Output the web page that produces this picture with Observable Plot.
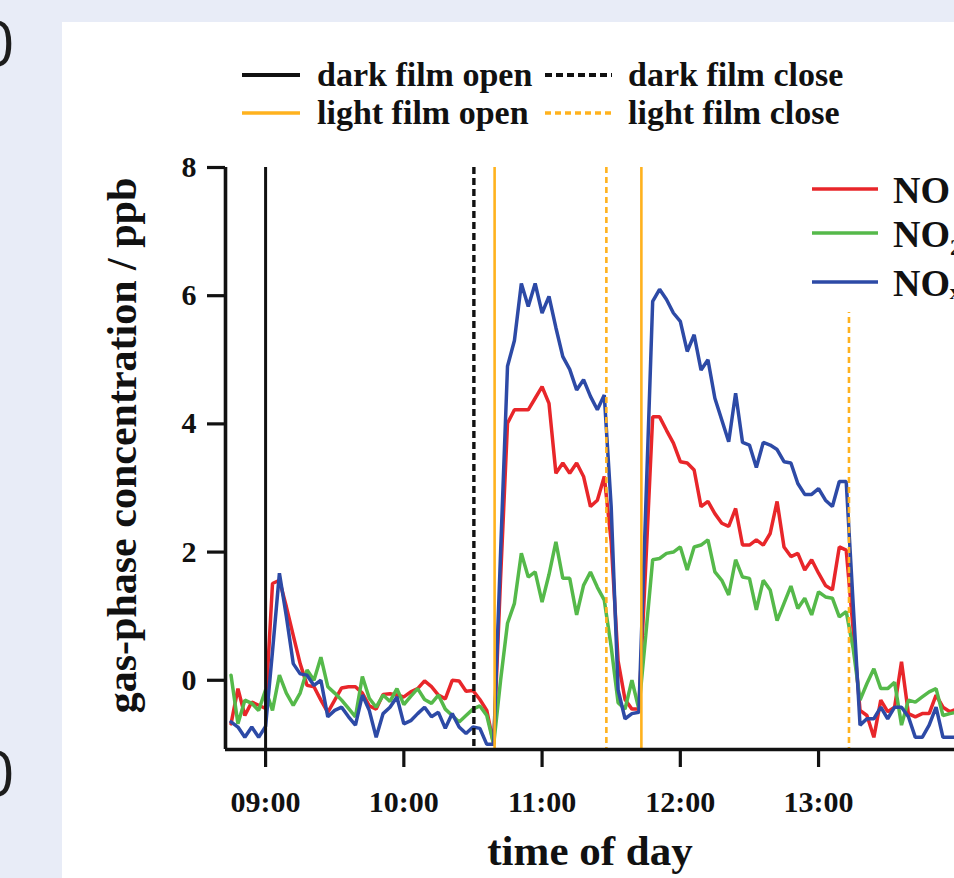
<!DOCTYPE html>
<html>
<head>
<meta charset="utf-8">
<script src="https://cdn.jsdelivr.net/npm/d3@7"></script>
<script src="https://cdn.jsdelivr.net/npm/@observablehq/plot@0.6"></script>
<style>
  html, body { margin: 0; padding: 0; width: 954px; height: 878px; overflow: hidden; background: #e8ecf7; }
  #page { position: relative; width: 954px; height: 878px; overflow: hidden; }
  .frag { position: absolute; left: -21px; font-family: "Open Sans", sans-serif; font-size: 62px; line-height: 1; color: #1c1c1c; }
  #panel { position: absolute; left: 62px; top: 22px; width: 1000px; height: 900px; background: #fff; }
  #chart { position: absolute; left: 0; top: 118px; }
  .serif { font-family: "Liberation Serif", serif; font-weight: bold; color: #111; }
  #film { position: absolute; left: 180px; top: 34px; display: grid;
          grid-template-columns: 58px 17px 228px 67px 16px auto; grid-auto-rows: 38px;
          font-size: 34px; line-height: 38px; align-items: center; }
  #gas { position: absolute; left: 738px; top: 140px; width: 300px; height: 150px; background: #fff; }
  .gasrow { position: absolute; left: 12px; display: flex; align-items: center; font-size: 38px; line-height: 40px; }
</style>
</head>
<body>
<div id="page">
  <div class="frag" style="top:11px">0</div>
  <div class="frag" style="top:741px">0</div>
  <div id="panel">
    <div id="film" class="serif"></div>
    <div id="chart"></div>
    <div id="gas" class="serif"></div>
  </div>
</div>
<script>
// ---- data (minutes after midnight, concentrations in ppb) ----
const times = [525,528,531,534,537,540,543,546,549,552,555,558,561,564,567,570,573,576,579,582,585,588,591,594,597,600,603,606,609,612,615,618,621,624,627,630,633,636,639,642,645,648,651,654,657,660,663,666,669,672,675,678,681,684,687,690,693,696,699,702,705,708,711,714,717,720,723,726,729,732,735,738,741,744,747,750,753,756,759,762,765,768,771,774,777,780,783,786,789,792,795,798,801,804,807,810,813,816,819,822,825,828,831,834,837,840];
const noValues = [-0.68,-0.13,-0.55,-0.34,-0.39,-0.44,
  1.51,1.56,1.15,0.70,0.26,-0.08,-0.10,-0.31,-0.50,-0.31,
  -0.12,-0.10,-0.10,-0.20,-0.40,-0.45,-0.22,-0.21,-0.23,-0.26,
  -0.18,-0.13,-0.01,-0.10,-0.23,-0.29,0.00,-0.01,-0.17,-0.16,
  -0.30,-0.47,-1.00,1.60,4.01,4.22,4.22,4.22,4.40,4.58,
  4.32,3.23,3.39,3.23,3.39,3.18,2.71,2.81,3.18,2.16,
  0.30,-0.30,-0.45,-0.45,1.80,4.11,4.11,3.90,3.70,3.41,
  3.39,3.28,2.71,2.79,2.60,2.45,2.40,2.68,2.11,2.11,
  2.19,2.11,2.29,2.79,2.08,1.93,1.98,1.72,1.88,1.67,
  1.48,1.41,2.08,2.03,0.80,-0.47,-0.55,-0.89,-0.31,-0.49,
  -0.42,0.29,-0.52,-0.57,-0.52,-0.52,-0.23,-0.42,-0.49,-0.45];
const no2Values = [0.08,-0.68,-0.31,-0.36,-0.47,-0.15,
  -0.47,0.08,-0.20,-0.39,-0.20,0.16,0.00,0.36,-0.10,-0.20,
  -0.31,-0.44,-0.57,0.06,-0.28,-0.42,-0.23,-0.33,-0.13,-0.38,
  -0.25,-0.13,-0.30,-0.36,-0.23,-0.45,-0.55,-0.65,-0.55,-0.45,
  -0.40,-0.55,-1.00,0.00,0.89,1.20,1.98,1.61,1.69,1.22,
  1.65,2.16,1.59,1.59,1.02,1.48,1.69,1.45,1.25,0.52,
  -0.35,-0.45,0.00,-0.45,0.70,1.88,1.90,1.98,2.00,2.08,
  1.72,2.08,2.11,2.19,1.69,1.56,1.33,1.88,1.61,1.59,
  1.10,1.56,1.41,0.93,1.20,1.47,1.12,1.28,1.02,1.38,
  1.30,1.28,0.99,1.07,0.50,-0.31,-0.05,0.18,-0.13,-0.13,
  -0.03,-0.70,-0.31,-0.34,-0.26,-0.18,-0.13,-0.55,-0.52,-0.50];
const noxValues = [-0.65,-0.73,-0.89,-0.73,-0.89,-0.72,
  0.45,1.67,1.00,0.26,0.10,0.08,-0.08,0.00,-0.57,-0.47,
  -0.42,-0.57,-0.70,-0.23,-0.47,-0.89,-0.52,-0.42,-0.26,-0.68,
  -0.63,-0.52,-0.42,-0.57,-0.50,-0.75,-0.52,-0.73,-0.83,-0.73,
  -0.75,-1.00,-1.00,2.00,4.90,5.30,6.19,5.83,6.19,5.73,
  5.99,5.50,5.05,4.85,4.53,4.69,4.43,4.22,4.45,2.70,
  -0.15,-0.60,-0.52,-0.50,2.70,5.91,6.10,5.94,5.73,5.60,
  5.13,5.39,4.84,5.00,4.40,4.06,3.72,4.48,3.71,3.67,
  3.32,3.71,3.67,3.60,3.41,3.39,3.07,2.90,2.90,2.99,
  2.81,2.71,3.10,3.10,1.20,-0.70,-0.60,-0.60,-0.42,-0.60,
  -0.42,-0.42,-0.57,-0.89,-0.89,-0.70,-0.42,-0.89,-0.89,-0.89];

const seriesNames = ["NO", "NO₂", "NOₓ"];
const seriesColors = ["#e8262a", "#55b94a", "#2d4aa6"];

const eventTimes = [540, 630.4, 639.4, 687.9, 703.1, 793.2];
const eventKinds = ["dark film open", "dark film close", "light film open", "light film close", "light film open", "light film close"];
const filmKinds = ["dark film open", "dark film close", "light film open", "light film close"];
const filmColors = ["#111111", "#111111", "#ffb21e", "#ffb21e"];
const filmDash = [null, "7,4", null, "6,4"];
const filmWidth = [3, 3.4, 2.6, 2.6];

const xTicks = [540, 600, 660, 720, 780];
const xTickLabels = ["09:00", "10:00", "11:00", "12:00", "13:00"];
const yTicks = [0, 2, 4, 6, 8];
const xDomain = [522.6, 839.0];
const yDomain = [-1.08, 8];
const xLabel = "time of day";
const yLabel = "gas-phase concentration / ppb";

// ---- build ----
const seriesValues = [noValues, no2Values, noxValues];
const lines = seriesValues.map((vals, si) => times.map((t, i) => ({t, v: vals[i], s: seriesNames[si]})));
const events = eventTimes.map((t, i) => ({t, kind: eventKinds[i]}));

const eventMarks = filmKinds.map((k, i) =>
  Plot.ruleX(events.filter(e => e.kind === k), {
    x: "t", stroke: filmColors[i], strokeWidth: filmWidth[i],
    strokeDasharray: filmDash[i] || undefined
  }));

const chart = Plot.plot({
  width: 892, height: 738,
  marginLeft: 163, marginRight: 0, marginTop: 27, marginBottom: 129,
  x: {domain: xDomain},
  y: {domain: yDomain},
  style: {background: "transparent", fontFamily: "'Liberation Serif', serif", fontWeight: "bold", color: "#111", overflow: "visible", maxWidth: "none"},
  marks: [
    Plot.axisY({ticks: yTicks, tickSize: 18, tickPadding: 11, strokeWidth: 3.2, fontSize: 30, fontWeight: "bold", label: null}),
    Plot.axisX({ticks: xTicks, tickFormat: d => xTickLabels[xTicks.indexOf(d)], tickSize: 18, tickPadding: 23, strokeWidth: 3.2, fontSize: 30, fontWeight: "bold", label: null}),
    ...lines.map((L, si) => Plot.line(L, {x: "t", y: "v", stroke: seriesColors[si], strokeWidth: 3.5, strokeLinejoin: "miter"})),
    ...eventMarks,
    Plot.ruleX([xDomain[0]], {strokeWidth: 3.6, stroke: "#111"}),
    Plot.ruleY([yDomain[0]], {strokeWidth: 3.6, stroke: "#111"}),
    Plot.text([yLabel], {frameAnchor: "left", textAnchor: "middle", lineAnchor: "middle", rotate: -90, dx: -103, dy: -13, fontSize: 42, fontWeight: "bold", fill: "#111"}),
    Plot.text([xLabel], {frameAnchor: "bottom", textAnchor: "middle", lineAnchor: "middle", dx: 0, dy: 102, fontSize: 43, fontWeight: "bold", fill: "#111"})
  ]
});
document.getElementById("chart").appendChild(chart);

// film legend (2 x 2 grid)
const film = document.getElementById("film");
function swatch(color, dash, w, width) {
  const ns = "http://www.w3.org/2000/svg";
  const s = document.createElementNS(ns, "svg");
  s.setAttribute("width", width); s.setAttribute("height", 38);
  const l = document.createElementNS(ns, "line");
  l.setAttribute("x1", 0); l.setAttribute("x2", width);
  l.setAttribute("y1", 19); l.setAttribute("y2", 19);
  l.setAttribute("stroke", color); l.setAttribute("stroke-width", w + 0.8);
  if (dash) l.setAttribute("stroke-dasharray", dash);
  s.appendChild(l);
  return s;
}
[[0, 1], [2, 3]].forEach(row => {
  row.forEach((k, j) => {
    film.appendChild(swatch(filmColors[k], filmDash[k], filmWidth[k], j === 0 ? 58 : 67));
    film.appendChild(document.createElement("span"));
    const t = document.createElement("span");
    t.textContent = filmKinds[k];
    film.appendChild(t);
  });
});

// gas legend
const gas = document.getElementById("gas");
const gasTops = [8, 52, 101];
seriesNames.forEach((n, i) => {
  const r = document.createElement("div");
  r.className = "gasrow";
  r.style.top = gasTops[i] + "px";
  const sw = swatch(seriesColors[i], null, 2.6, 66);
  sw.setAttribute("height", 40);
  sw.style.marginRight = "15px";
  r.appendChild(sw);
  const t = document.createElement("span");
  t.textContent = n;
  r.appendChild(t);
  gas.appendChild(r);
});
</script>
</body>
</html>
